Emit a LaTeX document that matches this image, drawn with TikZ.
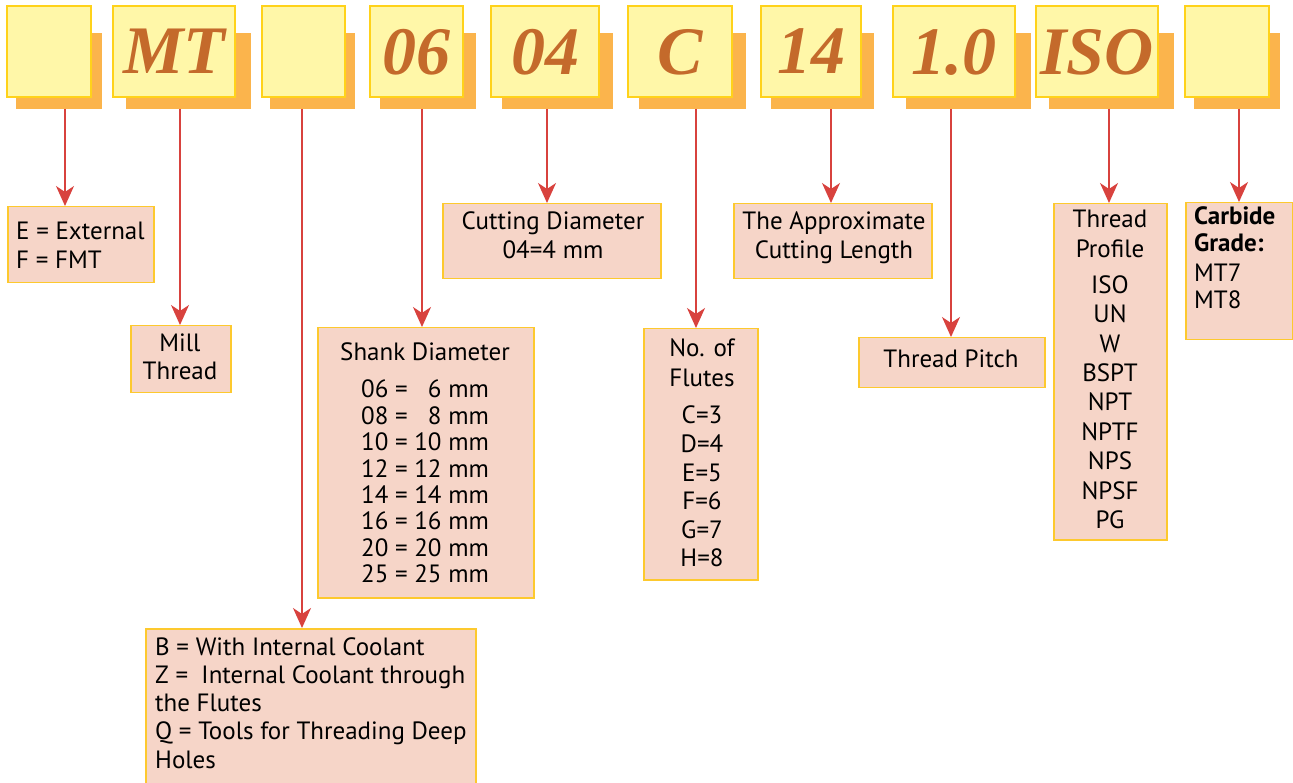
\documentclass[tikz,border=0pt]{standalone}
\usepackage{fontspec}
\setmainfont{PT Sans}
\newfontfamily\codefont{Liberation Serif}
\usetikzlibrary{arrows.meta}
\definecolor{frontfill}{HTML}{FFF7A8}
\definecolor{frontdraw}{HTML}{FFD21A}
\definecolor{shadowc}{HTML}{FBB44C}
\definecolor{lowfill}{HTML}{F6D5C8}
\definecolor{lowdraw}{HTML}{FDC92E}
\definecolor{arrowc}{HTML}{D8423E}
\definecolor{codec}{HTML}{C46A2B}
\begin{document}
\begin{tikzpicture}[x=1pt,y=-1pt,
 topbox/.style={draw=frontdraw, fill=frontfill, line width=1.5pt, inner sep=0pt, minimum height=91pt, text depth=0pt, font=\codefont\bfseries\itshape\fontsize{68}{68}\selectfont, text=codec},
 lowbox/.style={draw=lowdraw, fill=lowfill, line width=1.5pt, anchor=north west, inner sep=0pt},
 lowtext/.style={inner sep=0pt, font=\fontsize{25}{28.5}\selectfont, anchor=base},
 conn/.style={draw=arrowc, line width=1.6pt, -{Stealth[length=20pt,width=18pt,inset=6pt]}}
]
\useasboundingbox (0,0) rectangle (1293,783);
\clip (0,0) rectangle (1293,783);
% shadows
\fill[shadowc] (16,33) rectangle (102,109);
\fill[shadowc] (126,33) rectangle (251,109);
\fill[shadowc] (270,33) rectangle (355,109);
\fill[shadowc] (380,33) rectangle (476,109);
\fill[shadowc] (502,33) rectangle (613,109);
\fill[shadowc] (639,33) rectangle (746,109);
\fill[shadowc] (771,33) rectangle (874,109);
\fill[shadowc] (906,33) rectangle (1031,109);
\fill[shadowc] (1049,33) rectangle (1174,109);
\fill[shadowc] (1194,33) rectangle (1280,109);
% top code boxes
\node[topbox, minimum width=84pt] (t1) at (49,51.5) {};
\node[topbox, minimum width=122pt] (t2) at (174,51.5) {MT};
\node[topbox, minimum width=83pt] (t3) at (303.5,51.5) {};
\node[topbox, minimum width=93pt] (t4) at (416.5,51.5) {06};
\node[topbox, minimum width=108pt] (t5) at (545,51.5) {04};
\node[topbox, minimum width=104pt] (t6) at (680,51.5) {C};
\node[topbox, minimum width=100pt] (t7) at (811,51.5) {14};
\node[topbox, minimum width=122pt] (t8) at (954,51.5) {1.0};
\node[topbox, minimum width=122pt] (t9) at (1097,51.5) {ISO};
\node[topbox, minimum width=84pt] (t10) at (1227,51.5) {};
% lower boxes
\node[lowbox, minimum width=146pt, minimum height=76pt] (e) at (7,206) {};
\node[lowbox, minimum width=100pt, minimum height=67pt] (mill) at (130,325) {};
\node[lowbox, minimum width=216pt, minimum height=270pt] (shank) at (317,327) {};
\node[lowbox, minimum width=330pt, minimum height=200pt] (b) at (145,628) {};
\node[lowbox, minimum width=218pt, minimum height=75pt] (cut) at (442,203) {};
\node[lowbox, minimum width=198pt, minimum height=75pt] (appr) at (733,203) {};
\node[lowbox, minimum width=114pt, minimum height=251pt] (flutes) at (643,328) {};
\node[lowbox, minimum width=186pt, minimum height=50pt] (pitch) at (858,337) {};
\node[lowbox, minimum width=113pt, minimum height=336pt] (prof) at (1053,203) {};
\node[lowbox, minimum width=107pt, minimum height=137pt] (carb) at (1185,202) {};
% texts
\node[lowtext, anchor=base west, font=\fontsize{25}{29}\selectfont] (etext) at (16,240)
 {\begin{tabular}[t]{@{}l@{}}E = External\\F = FMT\end{tabular}};
\node[lowtext, font=\fontsize{25}{28}\selectfont] (milltext) at (180,352)
 {\begin{tabular}[t]{@{}c@{}}Mill\\Thread\end{tabular}};
\node[lowtext, font=\fontsize{25}{26.4}\selectfont] (shanktext) at (425,361)
 {\begin{tabular}[t]{@{}c@{}}Shank Diameter\\[10.6pt]
 \begin{tabular}[t]{@{}r@{ = }r@{ mm}@{}}06 & 6\\ 08 & 8\\ 10 & 10\\ 12 & 12\\ 14 & 14\\ 16 & 16\\ 20 & 20\\ 25 & 25\end{tabular}\end{tabular}};
\node[lowtext, anchor=base west, font=\fontsize{25}{28.25}\selectfont] (btext) at (155,655)
 {\begin{tabular}[t]{@{}l@{}}B = With Internal Coolant\\Z = \ Internal Coolant through\\the Flutes\\Q = Tools for Threading Deep\\Holes\end{tabular}};
\node[lowtext, font=\fontsize{25}{29}\selectfont] (cuttext) at (553,230)
 {\begin{tabular}[t]{@{}c@{}}Cutting Diameter\\04=4 mm\end{tabular}};
\node[lowtext, font=\fontsize{25}{29}\selectfont] (apprtext) at (834,230)
 {\begin{tabular}[t]{@{}c@{}}The Approximate\\Cutting Length\end{tabular}};
\node[lowtext, font=\fontsize{25}{28.6}\selectfont] (flutestext) at (702,357)
 {\begin{tabular}[t]{@{}c@{}}No. of\\[1.4pt]Flutes\\[8.4pt]C=3\\D=4\\E=5\\F=6\\G=7\\H=8\end{tabular}};
\node[lowtext] (pitchtext) at (951,368) {Thread Pitch};
\node[lowtext, font=\fontsize{25}{29.4}\selectfont] (proftext) at (1110,228)
 {\begin{tabular}[t]{@{}c@{}}Thread\\Profile\\[6.6pt]ISO\\UN\\W\\BSPT\\NPT\\NPTF\\NPS\\NPSF\\PG\end{tabular}};
\node[lowtext, anchor=base west, font=\fontsize{25}{27}\selectfont] (carbtext) at (1194,225)
 {\begin{tabular}[t]{@{}l@{}}\textbf{Carbide}\\\textbf{Grade:}\\[3pt]MT7\\[0pt]MT8\end{tabular}};
% connectors
\coordinate (s1) at (65,109);
\coordinate (s2) at (180,109);
\coordinate (s3) at (302,109);
\coordinate (s4) at (422,109);
\coordinate (s5) at (547,109);
\coordinate (s6) at (696,109);
\coordinate (s7) at (831,109);
\coordinate (s8) at (951,109);
\coordinate (s9) at (1109,109);
\coordinate (s10) at (1239,109);
\draw[conn] (s1) -- (s1 |- e.north);
\draw[conn] (s2) -- (s2 |- mill.north);
\draw[conn] (s3) -- (s3 |- b.north);
\draw[conn] (s4) -- (s4 |- shank.north);
\draw[conn] (s5) -- (s5 |- cut.north);
\draw[conn] (s6) -- (s6 |- flutes.north);
\draw[conn] (s7) -- (s7 |- appr.north);
\draw[conn] (s8) -- (s8 |- pitch.north);
\draw[conn] (s9) -- (s9 |- prof.north);
\draw[conn] (s10) -- (s10 |- carb.north);
\end{tikzpicture}
\end{document}
